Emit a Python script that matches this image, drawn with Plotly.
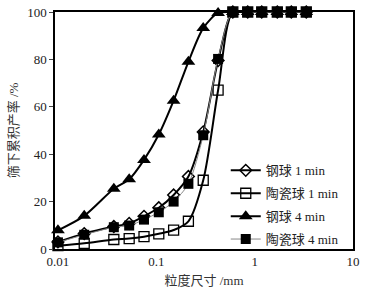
import plotly.graph_objects as go

sizes = [0.01, 0.0185, 0.037, 0.053, 0.075, 0.106, 0.15, 0.212, 0.3, 0.425, 0.6, 0.85, 1.18, 1.7, 2.36, 3.35]

steel_1min = [3.0, 6.5, 9.5, 10.8, 13.8, 17.4, 22.8, 30.6, 49.4, 79.5, 100, 100, 100, 100, 100, 100]
ceramic_1min = [1.4, 2.4, 4.0, 4.4, 5.2, 6.4, 8.0, 11.7, 29.0, 67.0, 100, 100, 100, 100, 100, 100]
steel_4min = [7.9, 14.0, 25.4, 29.4, 37.6, 48.3, 62.6, 79.0, 93.2, 99.6, 100, 100, 100, 100, 100, 100]
ceramic_4min = [2.8, 6.0, 9.2, 9.9, 12.4, 15.5, 20.0, 27.5, 48.0, 80.2, 100, 100, 100, 100, 100, 100]

names = ["钢球 1 min", "陶瓷球 1 min", "钢球 4 min", "陶瓷球 4 min"]

FONT = "Liberation Serif, Noto Sans CJK SC, serif"

fig = go.Figure()

fig.add_trace(go.Scatter(
    x=sizes, y=steel_1min, name=names[0], mode="lines+markers",
    line=dict(color="black", width=2, shape="spline", smoothing=0.8),
    marker=dict(symbol="diamond-open", size=9, color="black", line=dict(width=1.5)),
    cliponaxis=False, legendgroup="a"))
fig.add_trace(go.Scatter(
    x=sizes, y=ceramic_1min, name=names[1], mode="lines+markers",
    line=dict(color="black", width=2, shape="spline", smoothing=0.8),
    marker=dict(symbol="square-open", size=10, color="black", line=dict(width=1.3)),
    cliponaxis=False, legendgroup="b"))
fig.add_trace(go.Scatter(
    x=sizes, y=steel_4min, name=names[2], mode="lines+markers",
    line=dict(color="black", width=2, shape="spline", smoothing=0.8),
    marker=dict(symbol="triangle-up", size=12, color="black"),
    cliponaxis=False, legendgroup="c"))
fig.add_trace(go.Scatter(
    x=sizes, y=ceramic_4min, name=names[3], mode="lines+markers",
    line=dict(color="#888888", width=1, shape="spline", smoothing=0.8),
    marker=dict(symbol="square", size=10, color="black"),
    cliponaxis=False, legendgroup="d"))

fig.update_layout(
    width=369, height=291,
    margin=dict(l=55, r=16, t=12, b=42),
    paper_bgcolor="white", plot_bgcolor="white",
    font=dict(family=FONT, size=13, color="#222"),
    showlegend=True,
    legend=dict(x=0.573, y=0.395, xanchor="left", yanchor="top",
                bgcolor="rgba(0,0,0,0)", borderwidth=0,
                font=dict(family=FONT, size=13, color="#222"),
                traceorder="grouped", tracegroupgap=3,
                itemwidth=30),
    xaxis=dict(type="log", range=[-2.03, 1], tickvals=[0.01, 0.1, 1, 10],
               ticktext=["0.01", "0.1", "1", "10"], automargin=False,
               showline=True, linecolor="black", linewidth=1.5, mirror=True,
               ticks="", showgrid=False, zeroline=False,
               title=dict(text="粒度尺寸 /mm", standoff=8,
                          font=dict(family=FONT, size=13, color="#333"))),
    yaxis=dict(range=[0, 100], tickvals=[0, 20, 40, 60, 80, 100],
               automargin=False,
               showline=True, linecolor="black", linewidth=1.5, mirror=True,
               ticks="outside", ticklen=4, tickcolor="#444",
               showgrid=False, zeroline=False,
               title=dict(text="筛下累积产率 /%", standoff=6,
                          font=dict(family=FONT, size=13, color="#333"))),
)

fig.write_html("out.html", config={"displayModeBar": False},
               post_script="document.body.style.margin='0';document.body.style.padding='0';")
